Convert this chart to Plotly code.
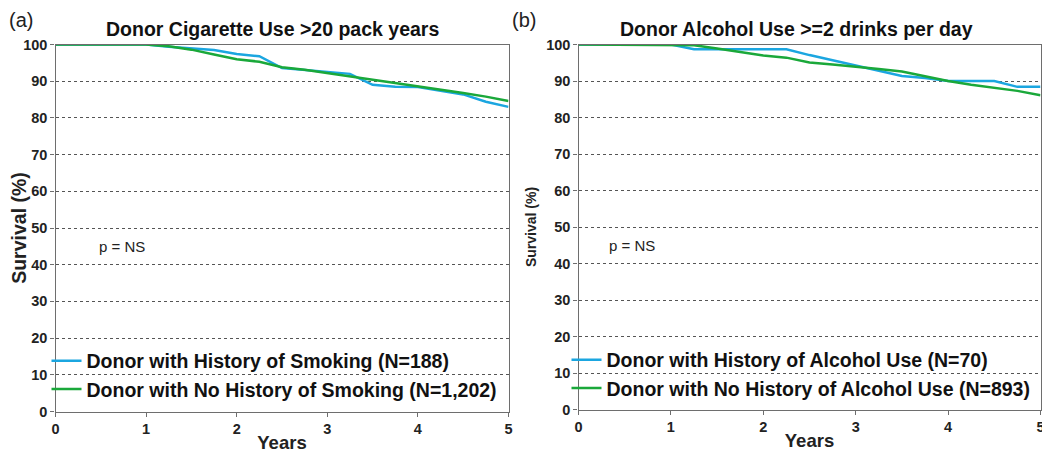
import plotly.graph_objects as go

years = [0, 0.25, 0.5, 0.75, 1, 1.25, 1.5, 1.75, 2, 2.25, 2.5, 2.75, 3, 3.25, 3.5, 3.75, 4, 4.25, 4.5, 4.75, 5]

smoke_yes = [100, 100, 100, 100, 100, 99.4, 98.9, 98.5, 97.4, 96.8, 93.6, 93.0, 92.5, 92.0, 89.0, 88.5, 88.4, 87.4, 86.4, 84.4, 83.0]
smoke_no = [100, 100, 100, 100, 100, 99.5, 98.6, 97.3, 96.0, 95.3, 93.8, 93.1, 92.2, 91.3, 90.6, 89.6, 88.7, 87.8, 86.8, 85.8, 84.6]

alc_yes = [100, 100, 100, 100, 100, 98.7, 98.7, 98.7, 98.7, 98.7, 97.1, 95.7, 94.2, 92.8, 91.4, 90.8, 90.0, 90.0, 90.0, 88.4, 88.4]
alc_no = [100, 100, 100, 100, 100, 99.8, 98.9, 98.0, 97.0, 96.4, 95.1, 94.5, 94.0, 93.3, 92.6, 91.3, 90.0, 89.0, 88.2, 87.3, 86.1]

names_a = ["Donor with History of Smoking (N=188)", "Donor with No History of Smoking (N=1,202)"]
names_b = ["Donor with History of Alcohol Use (N=70)", "Donor with No History of Alcohol Use (N=893)"]
titles = ["Donor Cigarette Use >20 pack years", "Donor Alcohol Use >=2 drinks per day"]

BLUE = "#1ba6e0"
GREEN = "#1aa83a"
FONT = "Liberation Sans, Arial, sans-serif"

fig = go.Figure()
fig.add_trace(go.Scatter(x=years, y=smoke_yes, mode="lines", name=names_a[0],
                         line=dict(color=BLUE, width=2.5), xaxis="x", yaxis="y", legend="legend"))
fig.add_trace(go.Scatter(x=years, y=smoke_no, mode="lines", name=names_a[1],
                         line=dict(color=GREEN, width=2.5), xaxis="x", yaxis="y", legend="legend"))
fig.add_trace(go.Scatter(x=years, y=alc_yes, mode="lines", name=names_b[0],
                         line=dict(color=BLUE, width=2.5), xaxis="x2", yaxis="y2", legend="legend2"))
fig.add_trace(go.Scatter(x=years, y=alc_no, mode="lines", name=names_b[1],
                         line=dict(color=GREEN, width=2.5), xaxis="x2", yaxis="y2", legend="legend2"))

W, H = 1050, 453
OFF = 7.5  # page offset of the figure inside the browser window


def px(x):
    return (x - OFF) / W


def py(y):
    return 1 - (y - OFF) / H


axis_common = dict(showline=True, linecolor="#6e6e6e", linewidth=1.3, mirror=True,
                   ticks="outside", ticklen=4, tickcolor="#6e6e6e", zeroline=False,
                   automargin=False,
                   tickfont=dict(family=FONT, size=14.5, color="#222", weight="bold"))

xcommon = dict(axis_common, range=[0, 5], dtick=1, tick0=0, showgrid=False)
ycommon = dict(axis_common, range=[0, 100], dtick=10, tick0=0, showgrid=True,
               gridcolor="#555", griddash="dot", gridwidth=1)

fig.update_layout(
    width=W, height=H,
    margin=dict(l=0, r=0, t=0, b=0, autoexpand=False),
    paper_bgcolor="white", plot_bgcolor="white",
    font=dict(family=FONT, color="#222"),
    xaxis=dict(xcommon, domain=[px(55), px(508)], anchor="y",
               title=dict(text="Years", font=dict(size=18.5, weight="bold"), standoff=0)),
    yaxis=dict(ycommon, domain=[py(411), py(44)], anchor="x",
               title=dict(text="Survival (%)", font=dict(size=19.5, weight="bold"), standoff=4)),
    xaxis2=dict(xcommon, domain=[px(578), px(1040)], anchor="y2",
                title=dict(text="Years", font=dict(size=18.5, weight="bold"), standoff=0)),
    yaxis2=dict(ycommon, domain=[py(409), py(44)], anchor="x2",
                title=dict(text="Survival (%)", font=dict(size=14, weight="bold"), standoff=6)),
    legend=dict(x=px(46), y=py(341), xanchor="left", yanchor="top",
                bgcolor="rgba(0,0,0,0)", tracegroupgap=0, itemwidth=30,
                font=dict(family=FONT, size=19.5, color="#111", weight="bold")),
    legend2=dict(x=px(566), y=py(340), xanchor="left", yanchor="top",
                 bgcolor="rgba(0,0,0,0)", tracegroupgap=0, itemwidth=30,
                 font=dict(family=FONT, size=19.5, color="#111", weight="bold")),
    showlegend=True,
)

ann = [
    dict(text="(a)", x=0, y=1, xref="paper", yref="paper", xanchor="left", yanchor="top",
         borderpad=0, showarrow=False, font=dict(family=FONT, size=20, color="#222")),
    dict(text="(b)", x=px(510), y=1, xref="paper", yref="paper", xanchor="left", yanchor="top",
         borderpad=0, showarrow=False, font=dict(family=FONT, size=20, color="#222")),
    dict(text=titles[0], x=px(272), y=py(28), xref="paper", yref="paper", xanchor="center", yanchor="middle",
         showarrow=False, font=dict(family=FONT, size=19.5, color="#111", weight="bold")),
    dict(text=titles[1], x=px(796), y=py(28), xref="paper", yref="paper", xanchor="center", yanchor="middle",
         showarrow=False, font=dict(family=FONT, size=19.5, color="#111", weight="bold")),
    dict(text="p = NS", x=0.73, y=45, xref="x", yref="y", xanchor="center", yanchor="middle",
         showarrow=False, font=dict(family=FONT, size=15, color="#222")),
    dict(text="p = NS", x=0.58, y=45, xref="x2", yref="y2", xanchor="center", yanchor="middle",
         showarrow=False, font=dict(family=FONT, size=15, color="#222")),
]
fig.update_layout(annotations=ann)

fig.write_html("out.html")
